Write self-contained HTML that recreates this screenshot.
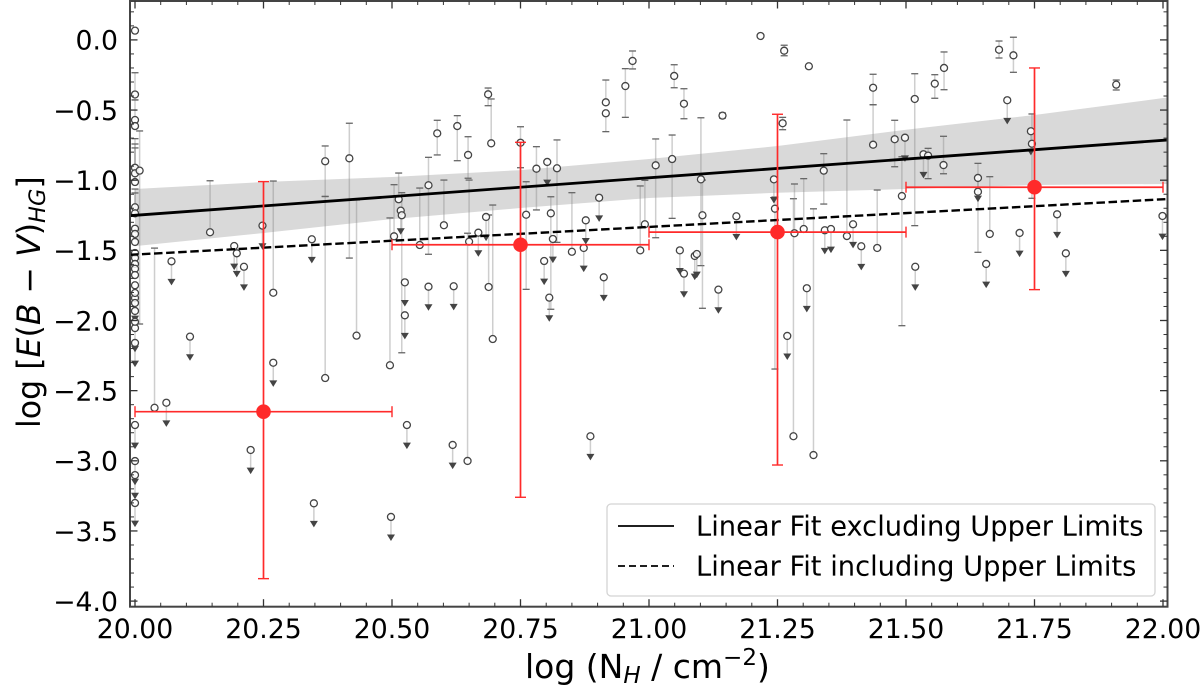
<!DOCTYPE html>
<html lang="en">
<head>
<meta charset="utf-8">
<title>E(B-V) versus hydrogen column density</title>
<style>
  html, body { margin: 0; padding: 0; background: #fff; }
  svg { display: block; font-family: "DejaVu Sans", "Liberation Sans", sans-serif; fill: #000; }
</style>
</head>
<body>
<svg id="chart" xmlns="http://www.w3.org/2000/svg" width="1200" height="685" viewBox="0 0 1200 685">
  <rect x="0" y="0" width="1200" height="685" fill="#fff"/>
  <g id="layer-band"></g>
  <g id="layer-err"></g>
  <g id="layer-pts"></g>
  <g id="layer-fit"></g>
  <g id="layer-bin"></g>
  <g id="layer-legend">
    <rect x="607" y="504" width="548" height="92" rx="4" fill="#fff" fill-opacity="0.85" stroke="#d4d4d4" stroke-width="1.3"/>
    <line x1="618" y1="526" x2="674" y2="526" stroke="#000" stroke-width="1.8"/>
    <line x1="618" y1="566" x2="674" y2="566" stroke="#000" stroke-width="1.8" stroke-dasharray="7 4"/>
    <text x="696" y="535.5" font-size="27.3">Linear Fit excluding Upper Limits</text>
    <text x="696" y="575.5" font-size="27.3">Linear Fit including Upper Limits</text>
  </g>
  <g id="layer-axes"></g>
  <text x="525" y="678" font-size="33">log (N<tspan dy="5" font-size="23" font-style="italic">H</tspan><tspan dy="-5"> / cm</tspan><tspan dy="-13" font-size="23">−2</tspan><tspan dy="13">)</tspan></text>
  <text transform="translate(40,428) rotate(-90)" font-size="31.6">log [<tspan font-style="italic">E</tspan>(<tspan font-style="italic">B</tspan> − <tspan font-style="italic">V</tspan>)<tspan dy="5" font-size="22.5" font-style="italic">HG</tspan><tspan dy="-5">]</tspan></text>
</svg>
<script>
// ---- detections ----
const detX = [20,20,20,20,20,20,20,20,20,20,20,20,20,20,20,20,20,20,20,20,20,20,
  20.009,20.038,20.146,20.269,20.370,20.370,20.417,20.431,20.496,20.504,20.513,20.519,
  20.554,20.571,20.588,20.601,20.627,20.647,20.648,20.650,20.687,20.688,20.693,20.696,
  20.750,20.761,20.781,20.809,20.821,20.850,20.916,20.916,20.954,20.968,20.983,20.992,
  21.013,21.045,21.049,21.068,21.101,21.104,21.143,21.217,21.263,21.311,21.260,21.245,
  21.281,21.283,21.301,21.320,21.340,21.385,21.444,21.436,21.436,21.478,21.492,21.517,
  21.543,21.556,21.574,21.573,21.640,21.663,21.681,21.709,21.745,21.909];
const detY = [0.066,-0.389,-0.571,-0.614,-0.911,-0.951,-1.013,-1.193,-1.236,-1.346,-1.383,-1.440,-1.519,-1.554,-1.597,-1.631,-1.676,-1.749,-1.804,-1.875,-1.932,-2.009,
  -0.932,-2.622,-1.371,-1.802,-0.865,-2.410,-0.844,-2.108,-2.319,-1.400,-1.136,-1.250,
  -1.462,-1.036,-0.666,-1.321,-0.614,-3.001,-0.820,-1.438,-0.388,-1.761,-0.737,-2.132,
  -0.733,-1.246,-0.918,-1.236,-0.915,-1.510,-0.445,-0.523,-0.329,-0.150,-1.500,-1.314,
  -0.894,-0.849,-0.257,-0.455,-0.994,-1.250,-0.540,0.028,-0.077,-0.188,-0.594,-1.203,
  -2.825,-1.378,-1.348,-2.959,-0.932,-1.398,-1.483,-0.341,-0.747,-0.708,-1.113,-0.421,
  -0.825,-0.312,-0.200,-0.892,-1.082,-1.383,-0.070,-0.110,-0.740,-0.319];
const detUpper = [null,-0.234,-0.428,null,-0.704,-0.742,-0.770,-1.063,-1.091,null,null,null,null,null,null,null,null,null,null,null,null,null,
  -0.649,-1.484,-1.004,-1.006,-0.756,-1.116,-0.594,-1.141,-1.269,-1.032,-0.949,-1.089,
  -1.056,-0.837,-0.573,-0.999,-0.540,-1.378,-0.690,-0.999,-0.343,-1.248,-0.421,-1.177,
  -0.619,-1.011,-0.761,-1.118,-0.713,-1.089,-0.286,null,-0.205,-0.079,-1.041,-1.001,
  -0.706,-0.678,-0.177,-0.348,-0.555,-0.999,-0.521,null,-0.038,null,-0.552,-1.120,
  -1.132,-1.027,-0.989,-1.204,-0.811,-0.571,-1.070,-0.245,-0.462,-0.573,-0.833,-0.241,
  -0.773,-0.248,-0.086,-0.687,-0.880,-0.975,-0.008,0.019,-0.528,-0.286];
const detLower = [null,-0.428,null,null,null,null,null,null,null,null,null,null,null,null,null,null,null,null,null,null,null,null,
  -2.025,null,null,null,-1.116,null,-1.555,null,null,null,null,-2.230,
  null,-1.528,-0.820,null,-0.861,null,-0.986,null,-0.469,null,null,null,
  -0.911,-1.778,-1.212,-1.920,-1.443,null,null,-0.654,-0.552,-0.207,null,null,
  -1.410,-1.272,-0.341,-0.562,-1.609,-1.913,-0.557,null,-0.113,null,-0.640,-2.346,
  null,null,null,null,-1.170,null,null,-0.462,null,-0.904,-2.037,-1.324,
  -0.989,-0.416,-0.355,-0.954,-1.514,null,-0.129,-0.231,-1.129,-0.357];

// ---- upper limits ----
const limX = [20,20,20,20,20,20,20,20.061,20.071,20.107,20.193,20.198,20.212,20.225,20.248,20.269,
  20.344,20.348,20.498,20.517,20.525,20.525,20.529,20.571,20.618,20.620,20.668,20.683,20.796,20.802,
  20.806,20.813,20.873,20.877,20.886,20.903,20.912,21.060,21.068,21.089,21.093,21.135,21.170,21.243,
  21.269,21.307,21.342,21.354,21.397,21.413,21.498,21.518,21.534,21.640,21.656,21.697,21.721,21.743,
  21.794,21.811,21.999];
const limY = [-1.840,-2.054,-2.160,-2.745,-3.002,-3.102,-3.301,-2.586,-1.578,-2.115,-1.469,-1.521,-1.617,-2.923,-1.324,-2.301,
  -1.421,-3.303,-3.400,-1.217,-1.728,-1.963,-2.745,-1.759,-2.887,-1.756,-1.374,-1.262,-1.576,-0.870,
  -1.837,-1.419,-1.483,-1.286,-2.825,-1.125,-1.692,-1.500,-1.666,-1.540,-1.526,-1.780,-1.257,-0.994,
  -2.110,-1.770,-1.357,-1.348,-1.314,-1.471,-0.697,-1.617,-0.815,-0.984,-1.597,-0.430,-1.376,-0.651,
  -1.243,-1.521,-1.255];
const limArrowDrop = [0.147];

// ---- binned means ----
const binX = [20.25,20.75,21.25,21.75];
const binY = [-2.65,-1.46,-1.37,-1.05];
const binXLow = [20.0,20.5,21.0,21.5];
const binXHigh = [20.5,21.0,21.5,22.0];
const binYHigh = [-1.01,-0.73,-0.53,-0.20];
const binYLow = [-3.84,-3.26,-3.03,-1.78];

// ---- fits ----
const fitX = [19.99,22.01];
const fitExcluding = [-1.253,-0.713];
const fitIncluding = [-1.532,-1.134];
const bandX = [20,20.25,20.5,20.75,21,21.25,21.5,21.75,22.01];
const bandUpper = [-1.063,-1.013,-0.977,-0.928,-0.849,-0.756,-0.64,-0.535,-0.41];
const bandLower = [-1.47,-1.376,-1.277,-1.198,-1.127,-1.09,-1.063,-1.034,-1.027];

// ---- ticks ----
const xTickValues = [20,20.25,20.5,20.75,21,21.25,21.5,21.75,22];
const xTickLabels = ["20.00","20.25","20.50","20.75","21.00","21.25","21.50","21.75","22.00"];
const yTickValues = [0,-0.5,-1,-1.5,-2,-2.5,-3,-3.5,-4];
const yTickLabels = ["0.0","−0.5","−1.0","−1.5","−2.0","−2.5","−3.0","−3.5","−4.0"];

// ---- axis functions ----
const plot = { left: 130, right: 1167.5, top: 1, bottom: 606.7 };
function sx(v) { return 135 + (v - 20) * 514; }
function sy(v) { return 39.9 - v * 140.3; }

const NS = 'http://www.w3.org/2000/svg';
function make(tag, attrs, parent) {
  const n = document.createElementNS(NS, tag);
  for (const k in attrs) n.setAttribute(k, attrs[k]);
  parent.appendChild(n);
  return n;
}
const layerBand = document.getElementById('layer-band');
const layerErr = document.getElementById('layer-err');
const layerPts = document.getElementById('layer-pts');
const layerFit = document.getElementById('layer-fit');
const layerBin = document.getElementById('layer-bin');
const layerAxes = document.getElementById('layer-axes');

// confidence band
{
  const up = bandX.map((x, i) => sx(x).toFixed(1) + ',' + sy(bandUpper[i]).toFixed(1));
  const lo = bandX.map((x, i) => sx(x).toFixed(1) + ',' + sy(bandLower[i]).toFixed(1)).reverse();
  const el = make('polygon', { points: up.concat(lo).join(' '), fill: '#d9d9d9' }, layerBand);
  
  
}

// detections
const errStyle = { stroke: '#8a8a8a', 'stroke-opacity': 0.42, 'stroke-width': 1.5 };
const capStyle = { stroke: '#666', 'stroke-width': 1.3 };
detX.forEach((x, i) => {
  const px = sx(x), py = sy(detY[i]);
  const top = detUpper[i] === null ? detY[i] : detUpper[i];
  const bottom = detLower[i] === null ? detY[i] : detLower[i];
  if (top !== bottom) {
    const bar = make('line', Object.assign({ x1: px, x2: px, y1: sy(top), y2: sy(bottom) }, errStyle), layerErr);
    
    
  }
  if (detUpper[i] !== null) {
    const cap = make('line', Object.assign({ x1: px - 3.5, x2: px + 3.5, y1: sy(top), y2: sy(top) }, capStyle), layerErr);
    
    
  }
  if (detLower[i] !== null) {
    const cap = make('line', Object.assign({ x1: px - 3.5, x2: px + 3.5, y1: sy(bottom), y2: sy(bottom) }, capStyle), layerErr);
    
    
  }
});

// upper limits
limX.forEach((x, i) => {
  const px = sx(x), py = sy(limY[i]), tip = sy(limY[i] - limArrowDrop[0]);
  const stem = make('line', Object.assign({ x1: px, x2: px, y1: py, y2: tip }, errStyle), layerErr);
  
  
  const arrow = make('polygon', { points: (px - 4) + ',' + (tip - 3) + ' ' + (px + 4) + ',' + (tip - 3) + ' ' + px + ',' + (tip + 3.5), fill: '#444' }, layerPts);
  
  
  const dot = make('circle', { cx: px, cy: py, r: 3.5, fill: '#fff', 'fill-opacity': 0.85, stroke: '#444', 'stroke-width': 1.3 }, layerPts);
  
  
});
detX.forEach((x, i) => {
  const dot = make('circle', { cx: sx(x), cy: sy(detY[i]), r: 3.5, fill: '#fff', 'fill-opacity': 0.85, stroke: '#444', 'stroke-width': 1.3 }, layerPts);
  
  
});

// fit lines
{
  const a = make('line', { x1: sx(fitX[0]), y1: sy(fitExcluding[0]), x2: sx(fitX[1]), y2: sy(fitExcluding[1]), stroke: '#000', 'stroke-width': 2.8 }, layerFit);
  
  
  const b = make('line', { x1: sx(fitX[0]), y1: sy(fitIncluding[0]), x2: sx(fitX[1]), y2: sy(fitIncluding[1]), stroke: '#000', 'stroke-width': 2.4, 'stroke-dasharray': '8.5 3.6' }, layerFit);
  
  
}

// binned means
const red = '#ff2a2a';
binX.forEach((x, i) => {
  const px = sx(x), py = sy(binY[i]);
  const h = make('line', { x1: sx(binXLow[i]), x2: sx(binXHigh[i]), y1: py, y2: py, stroke: red, 'stroke-width': 1.7 }, layerBin);
  
  
  const v = make('line', { x1: px, x2: px, y1: sy(binYHigh[i]), y2: sy(binYLow[i]), stroke: red, 'stroke-width': 1.7 }, layerBin);
  
  
  [binXLow[i], binXHigh[i]].forEach(c => {
    const cap = make('line', { x1: sx(c), x2: sx(c), y1: py - 5.5, y2: py + 5.5, stroke: red, 'stroke-width': 1.4 }, layerBin);
    
    
  });
  [binYHigh[i], binYLow[i]].forEach(c => {
    const cap = make('line', { x1: px - 5.5, x2: px + 5.5, y1: sy(c), y2: sy(c), stroke: red, 'stroke-width': 1.4 }, layerBin);
    
    
  });
  const dot = make('circle', { cx: px, cy: py, r: 7.3, fill: red }, layerBin);
  
  
});

// axes frame
{
  const frame = make('rect', { x: plot.left, y: plot.top, width: plot.right - plot.left, height: plot.bottom - plot.top, fill: 'none', stroke: '#444', 'stroke-width': 2 }, layerAxes);
  
  
}
function tick(x1, y1, x2, y2, w, name) {
  const t = make('line', { x1: x1, y1: y1, x2: x2, y2: y2, stroke: '#333', 'stroke-width': w }, layerAxes);
  
  
}
// x ticks
xTickValues.forEach((v, i) => {
  const p = sx(v);
  tick(p, plot.bottom, p, plot.bottom - 7.5, 1.3, 'x-major-tick');
  tick(p, plot.top, p, plot.top + 7.5, 1.3, 'x-major-tick-top');
  const lab = make('text', { x: p, y: 638, 'font-size': 26.7, 'text-anchor': 'middle' }, layerAxes);
  lab.textContent = xTickLabels[i];
  
  
  for (let k = 1; k < 5 && i < xTickValues.length - 1; k++) {
    const q = sx(v + k * 0.05);
    tick(q, plot.bottom, q, plot.bottom - 4, 1, 'x-minor-tick');
    tick(q, plot.top, q, plot.top + 4, 1, 'x-minor-tick-top');
  }
});
// y ticks
yTickValues.forEach((v, i) => {
  const p = sy(v);
  tick(plot.left, p, plot.left + 7.5, p, 1.3, 'y-major-tick');
  tick(plot.right, p, plot.right - 7.5, p, 1.3, 'y-major-tick-right');
  const lab = make('text', { x: 118, y: p + 9.8, 'font-size': 26.7, 'text-anchor': 'end' }, layerAxes);
  lab.textContent = yTickLabels[i];
  
  
});
for (let m = -40; m <= 2; m++) {
  if (m % 5 === 0) continue;
  const p = sy(m / 10);
  tick(plot.left, p, plot.left + 4, p, 1, 'y-minor-tick');
  tick(plot.right, p, plot.right - 4, p, 1, 'y-minor-tick-right');
}
</script>
</body>
</html>
